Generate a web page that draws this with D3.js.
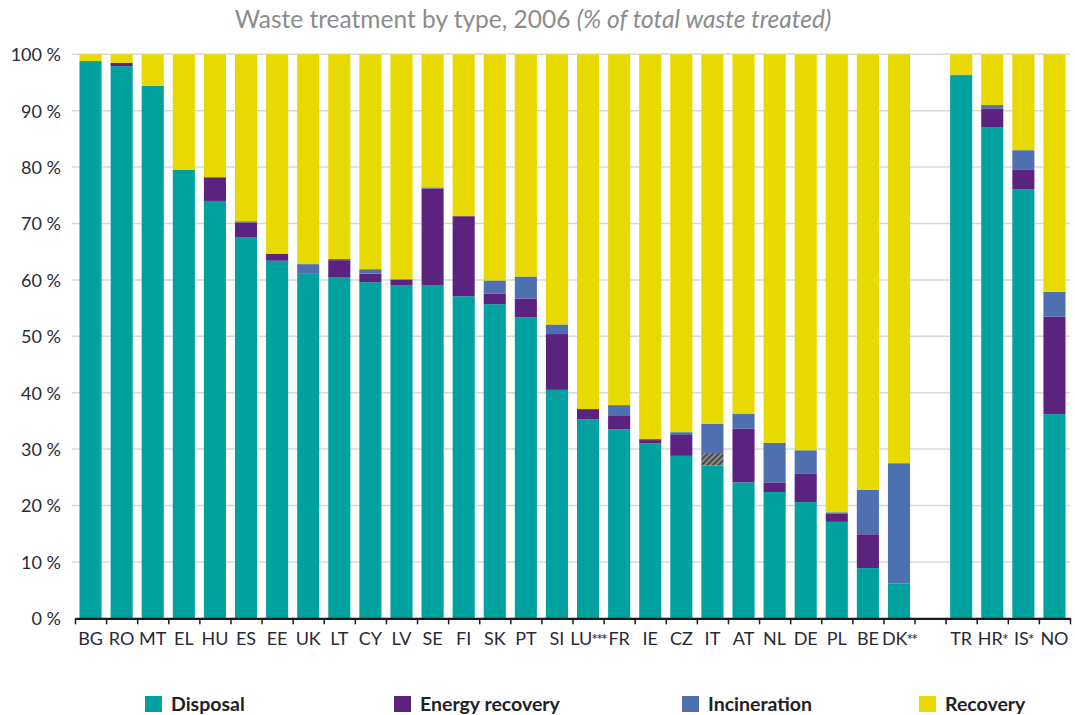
<!DOCTYPE html>
<html lang="en">
<head>
<meta charset="UTF-8">
<title>Waste treatment by type</title>
<script src="https://d3js.org/d3.v7.min.js"></script>
<style>
    body { margin: 0; background: #fff; }
    svg text { font-family: Lato, "Open Sans", sans-serif; }
</style>
</head>
<body>
<svg width="1075" height="715"></svg>
<script>
    // countries, " " is the empty slot before the non-EU group
    const countries = ["BG","RO","MT","EL","HU","ES","EE","UK","LT","CY","LV","SE","FI","SK","PT","SI",
        "LU***","FR","IE","CZ","IT","AT","NL","DE","PL","BE","DK**"," ","TR","HR*","IS*","NO"];

    // % of total waste treated
    const disposal   = [98.8,97.9,94.4,79.5,74.0,67.6,63.4,61.2,60.4,59.6,59.1,59.1,57.1,55.7,53.4,40.5,
        35.3,33.5,31.0,28.8,27.1,24.1,22.4,20.6,17.1,8.9,6.2,0,96.3,87.0,76.1,36.2];
    const other      = [0,0,0,0,0,0,0,0,0,0,0,0,0,0,0,0,
        0,0,0,0,2.2,0,0,0,0,0,0,0,0,0,0,0];
    const energyRec  = [0,0.6,0,0,4.2,2.6,1.2,0,3.1,1.5,1.0,17.1,14.2,1.9,3.3,9.9,
        1.8,2.5,0.6,3.7,0,9.5,1.7,5.0,1.5,6.0,0,0,0,3.4,3.4,17.3];
    const incineration = [0,0,0,0,0,0.2,0,1.6,0.2,0.8,0,0.2,0,2.3,3.9,1.7,
        0,1.8,0.2,0.5,5.2,2.7,7.0,4.2,0.2,7.9,21.3,0,0.1,0.6,3.5,4.4];
    const recovery   = [1.2,1.5,5.6,20.5,21.8,29.6,35.4,37.2,36.3,38.1,39.9,23.6,28.7,40.1,39.4,47.9,
        62.9,62.2,68.2,67.0,65.5,63.7,68.9,70.2,81.2,77.2,72.5,0,3.6,9.0,17.0,42.1];

    const yTicks = [0,10,20,30,40,50,60,70,80,90,100];
    const legendNames = ["Disposal","Energy recovery","Incineration","Recovery"];

    const svg = d3.select("svg");

    const plotLeft = 75, plotRight = 1070, plotTop = 54.3, plotBottom = 618.3;

    // stacked table
    const keys = ["disposal","other","energy","incineration","recovery"];
    const table = countries.map((c, i) => ({
        country: c,
        disposal: disposal[i],
        other: other[i],
        energy: energyRec[i],
        incineration: incineration[i],
        recovery: recovery[i]
    }));
    const series = d3.stack().keys(keys)(table);

    const x = d3.scaleBand()
        .domain(countries)
        .range([plotLeft, plotRight])
        .paddingInner(0.29)
        .paddingOuter(0.145);

    const y = d3.scaleLinear().domain([0, 100]).range([plotBottom, plotTop]);

    const colors = {
        disposal: "#00a19f",
        other: "url(#hatch)",
        energy: "#5c2280",
        incineration: "#4e70b0",
        recovery: "#e8d900"
    };

    // hatch pattern for the IT slice
    const defs = svg.append("defs");
    const pat = defs.append("pattern")
        .attr("id", "hatch")
        .attr("patternUnits", "userSpaceOnUse")
        .attr("width", 4)
        .attr("height", 4)
        .attr("patternTransform", "rotate(45)");
    pat.append("rect").attr("width", 4).attr("height", 4).attr("fill", "#8a8a86");
    pat.append("rect").attr("width", 2).attr("height", 4).attr("fill", "#4a4a48");

    // title
    const title = svg.append("text")
        .attr("x", 533)
        .attr("y", 28)
        .attr("text-anchor", "middle")
        .attr("font-size", 24.5)
        .attr("fill", "#8c8c8c");
    title.append("tspan").text("Waste treatment by type, 2006 ");
    title.append("tspan").attr("font-style", "italic").text("(% of total waste treated)");

    // grid lines
    svg.append("g")
        .selectAll("line")
        .data(yTicks.filter(d => d > 0))
        .join("line")
        .attr("x1", 72)
        .attr("x2", plotRight)
        .attr("y1", d => y(d))
        .attr("y2", d => y(d))
        .attr("stroke", "#d8d8d8")
        .attr("stroke-width", 1.5);

    // y labels
    const yAxis = svg.append("g")
        .attr("transform", `translate(${plotLeft - 14},0)`)
        .call(d3.axisLeft(y).tickValues(yTicks).tickSize(0).tickFormat(d => d + " %"));
    yAxis.select(".domain").remove();
    yAxis.selectAll("text")
        .attr("font-size", 18)
        .attr("fill", "#2a2a35")
        .attr("x", 0)
        .attr("dy", "0.35em");

    // bars
    svg.append("g")
        .selectAll("g")
        .data(series)
        .join("g")
        .attr("fill", d => colors[d.key])
        .selectAll("rect")
        .data(d => d.filter(p => p[1] - p[0] > 0))
        .join("rect")
        .attr("x", d => x(d.data.country))
        .attr("width", x.bandwidth())
        .attr("y", d => y(d[1]))
        .attr("height", d => y(d[0]) - y(d[1]));

    // x axis: labels centred, ticks on band borders
    const xAxis = svg.append("g")
        .attr("transform", `translate(0,${plotBottom})`)
        .call(d3.axisBottom(x).tickSize(0).tickPadding(14));
    xAxis.select(".domain").remove();
    xAxis.selectAll("text")
        .attr("font-size", 18)
        .attr("fill", "#2a2a35")
        .each(function(d) {
            // tighter asterisks so LU*** and DK** don't collide
            const base = d.replace(/\*/g, "");
            const stars = d.slice(base.length);
            const t = d3.select(this).text(null);
            t.append("tspan").text(base);
            if (stars) {
                t.append("tspan")
                    .attr("font-size", 16)
                    .attr("letter-spacing", -2)
                    .attr("dx", -1)
                    .text(stars);
            }
        });

    const edges = d3.range(countries.length + 1);
    const xEdge = d3.scaleLinear().domain([0, countries.length]).range([plotLeft, plotRight]);
    const tickAxis = svg.append("g")
        .attr("transform", `translate(0,${plotBottom})`)
        .call(d3.axisBottom(xEdge).tickValues(edges).tickSize(6).tickSizeOuter(0).tickFormat(""));
    tickAxis.select(".domain").attr("stroke", "#1a1a1a").attr("stroke-width", 2.2);
    tickAxis.selectAll(".tick line").attr("stroke", "#1a1a1a").attr("stroke-width", 1.5);

    // legend
    const legendX = [145, 394, 682, 919];
    const legendKeys = ["disposal","energy","incineration","recovery"];
    const legend = svg.append("g")
        .selectAll("g")
        .data(legendNames)
        .join("g")
        .attr("transform", (d, i) => `translate(${legendX[i]},696)`);
    legend.append("rect")
        .attr("width", 17)
        .attr("height", 16)
        .attr("fill", (d, i) => colors[legendKeys[i]]);
    legend.append("text")
        .attr("x", 26)
        .attr("y", 8)
        .attr("dy", "0.35em")
        .attr("font-size", 19.5)
        .attr("font-weight", "bold")
        .attr("fill", "#222")
        .text(d => d);
</script>
</body>
</html>
